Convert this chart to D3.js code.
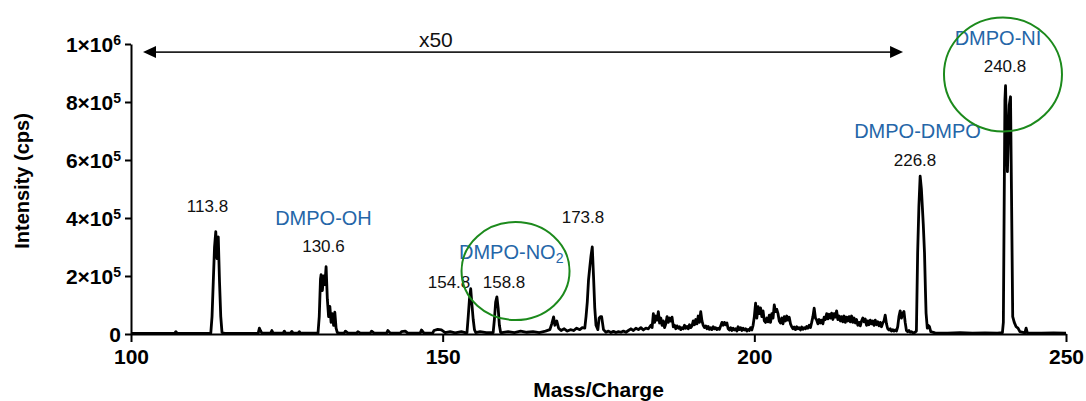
<!DOCTYPE html>
<html><head><meta charset="utf-8">
<script src="https://cdn.jsdelivr.net/npm/d3@7"></script>
<style>
body{margin:0;background:#fff}
svg{display:block}
text{font-family:"Liberation Sans",Arial,Helvetica,sans-serif}
</style>
</head><body>
<svg id="chart" width="1086" height="401"></svg>
<script>
// ---- DATA ----
// spectrum: [mass/charge, intensity in thousands of cps]
const spectrum = [
[100,2],[107,2],[107.2,8],[107.4,2],[112.8,3],[113.0,60],[113.2,180],[113.4,300],[113.6,353],[113.8,260],[114.0,335],[114.2,180],[114.4,60],[114.6,5],[115,2],
[120.4,2],[120.6,20],[120.8,10],[121.0,3],[122.4,3],[122.6,12],[122.8,3],[124.4,3],[124.6,10],[124.8,3],[125.6,3],[125.8,9],[126.0,3],[126.8,3],[127.0,8],[127.2,3],
[130.0,3],[130.2,60],[130.4,190],[130.5,205],[130.7,150],[130.9,200],[131.1,170],[131.3,232],[131.5,120],[131.7,60],[131.9,95],[132.1,40],[132.3,70],[132.5,30],[132.7,75],[132.9,20],[133.1,5],[133.4,3],
[134.2,3],[134.4,10],[134.8,3],[136.2,3],[136.4,8],[136.8,3],[138.4,3],[138.6,10],[139,3],[141.0,3],[141.2,12],[141.6,3],[143.2,3],[143.4,8],[144,10],[144.4,3],[146.4,3],[146.6,14],[147,3],[148.4,3],[148.6,12],[149.2,16],[149.8,14],[150.4,5],[151.2,8],[152,4],[153,8],[153.6,5],
[153.9,5],[154.1,60],[154.3,120],[154.5,156],[154.7,100],[154.9,50],[155.1,15],[155.3,5],[156,8],[157,5],[157.8,5],
[158.1,5],[158.3,50],[158.5,110],[158.7,128],[158.9,90],[159.1,30],[159.3,5],
[159.5,5],[160.5,8],[161.5,5],[162.5,10],[163.5,6],[164.5,8],[165.5,5],[166.5,10],[167.2,15],[167.5,35],[167.8,59],[168.0,30],[168.3,45],[168.6,20],[169.0,12],[169.5,18],[170.0,10],[170.5,15],[171.0,12],[171.5,20],[172.0,15],[172.4,22],
[172.8,20],[173.0,60],[173.2,110],[173.4,187],[173.6,230],[173.8,270],[174.0,300],[174.2,200],[174.4,90],[174.6,30],[174.9,15],[175.1,55],[175.3,60],
[175.5,60],[175.8,15],[176.2,6],[176.6,10],[177.0,5],[177.4,9],[177.8,5],[178.2,8],[178.6,6],[179.0,10],[179.4,6],[179.8,12],[180.2,18],[180.6,12],[181.0,20],[181.4,15],[181.8,22],[182.2,14],[182.6,20],[183.0,18],
[183.4,30],[183.6,22],[183.8,70],[184.0,40],[184.2,62],[184.4,48],[184.6,77],[184.8,38],[185.0,55],[185.2,30],[185.4,45],[185.6,22],[185.8,35],[186.0,60],[186.2,40],[186.4,55],[186.6,45],[186.8,58],[187.0,25],[187.2,30],
[187.4,18],[187.6,28],[187.8,20],[188.0,25],[188.2,15],[188.4,22],[188.6,18],[188.8,30],[189.0,20],[189.2,26],[189.4,18],[189.6,32],[189.8,22],[190.0,28],[190.2,45],[190.4,32],[190.6,50],[190.8,35],[191.0,62],[191.2,40],
[191.4,77],[191.6,45],[191.8,30],[192.0,22],[192.2,28],[192.4,18],[192.6,26],[192.8,16],[193.0,22],[193.2,15],[193.4,25],[193.6,18],[193.8,22],[194.0,15],[194.2,20],[194.4,16],[194.6,28],[194.8,40],[195.0,30],[195.2,40],
[195.4,32],[195.6,38],[195.8,18],[196.0,14],[196.2,22],[196.4,12],[196.6,20],[196.8,14],[197.0,18],[197.2,10],[197.4,25],[197.6,15],[197.8,22],[198.0,12],[198.2,20],[198.4,14],[198.6,18],[198.8,10],[199.0,16],[199.2,12],
[199.4,22],[199.6,14],[199.8,30],[200.0,60],[200.2,106],[200.4,55],[200.6,94],[200.8,70],[201.0,90],[201.2,60],[201.4,80],[201.6,45],[201.8,40],[202.0,55],[202.2,42],[202.4,65],[202.6,40],[202.8,70],[203.0,55],[203.2,100],
[203.4,77],[203.6,85],[203.8,70],[204.0,45],[204.2,38],[204.4,55],[204.6,35],[204.8,60],[205.0,45],[205.2,62],[205.4,48],[205.6,58],[205.8,35],[206.0,25],[206.2,18],[206.4,24],[206.6,15],[206.8,25],[207.0,18],[207.2,22],
[207.4,14],[207.6,24],[207.8,16],[208.0,22],[208.2,18],[208.4,26],[208.6,20],[208.8,30],[209.0,22],[209.2,40],[209.4,60],[209.6,89],[209.8,55],[210.0,48],[210.2,35],[210.4,50],[210.6,38],[210.8,48],[211.0,35],[211.2,58],
[211.4,50],[211.6,70],[211.8,52],[212.0,68],[212.2,55],[212.4,72],[212.6,50],[212.8,70],[213.0,58],[213.2,80],[213.4,50],[213.6,62],[213.8,45],[214.0,60],[214.2,42],[214.4,62],[214.6,40],[214.8,58],[215.0,45],[215.2,60],
[215.4,42],[215.6,62],[215.8,40],[216.0,55],[216.2,38],[216.4,50],[216.6,30],[216.8,40],[217.0,28],[217.2,45],[217.4,55],[217.6,42],[217.8,52],[218.0,30],[218.2,45],[218.4,32],[218.6,48],[218.8,35],[219.0,45],[219.2,30],
[219.4,48],[219.6,32],[219.8,42],[220.0,28],[220.2,40],[220.4,25],[220.6,38],[220.8,45],[221.0,65],[221.2,35],[221.4,18],[221.6,14],[221.8,18],[222.0,10],[222.2,15],[222.4,10],[222.6,14],[222.8,10],[223.0,25],[223.2,60],
[223.4,80],[223.6,55],[223.8,70],[224.0,78],[224.2,40],[224.4,12],[224.6,8],[224.8,12],[225.0,6],[225.2,8],[225.4,5],[225.7,5],
[226.0,10],[226.2,280],[226.4,440],[226.6,544],[226.8,500],[226.95,440],[227.1,380],[227.3,280],[227.45,150],[227.55,72],[227.75,20],[227.9,30],[228.1,25],[228.3,8],
[229,4],[231,3],[233,5],[235,3],[237,4],[239,3],[239.8,5],
[239.95,40],[240.1,500],[240.2,807],[240.3,856],[240.6,560],[240.9,790],[241.1,818],[241.25,500],[241.45,60],[241.7,40],[242.0,25],[242.3,20],[242.6,8],[243.4,4],[243.6,20],[243.8,4],[246,3],[248,4],[250,3]
];

const xTicks = [100, 150, 200, 250];
const yTicks = [0, 200000, 400000, 600000, 800000, 1000000];
const yTickMantissa = ["0", "2×10", "4×10", "6×10", "8×10", "1×10"];
const yTickExponent = ["", "5", "5", "5", "5", "6"];

const peakLabels = ["113.8", "130.6", "154.8", "158.8", "173.8", "226.8", "240.8"];
const speciesLabels = ["DMPO-OH", "DMPO-NO", "DMPO-DMPO", "DMPO-NI"];
const speciesSubscripts = ["", "2", "", ""];
const xTitle = "Mass/Charge";
const yTitle = "Intensity (cps)";
const magnifyLabel = "x50";

// ---- LAYOUT (annotation anchors in data units: m/z, thousands cps) ----
const peakLabelPos = [[112.27,421],[130.88,283],[151.02,159],[159.84,159],[172.51,383],[225.78,579],[240.21,903]];
const speciesLabelPos = [[130.88,376],[161.0,259],[226.18,676],[239.09,997]];
const circlePos = [[161.69,217,54,49],[239.89,895,59,57]];
const arrowSpan = [101.93, 223.86, 972];
const magnifyPos = [148.9, 990];

const W = 1086, H = 401;
const M = {top: 44, right: 20, bottom: 67, left: 131};
const x = d3.scaleLinear().domain([100, 250]).range([M.left, W - M.right]);
const y = d3.scaleLinear().domain([0, 1000000]).range([H - M.bottom, M.top]);
const yk = v => y(v * 1000);

const svg = d3.select("#chart");

// axes
const gx = svg.append("g").attr("transform", `translate(0,${H - M.bottom})`)
  .call(d3.axisBottom(x).tickValues(xTicks).tickSize(8).tickSizeOuter(0).tickPadding(7).tickFormat(d3.format("d")));
const gy = svg.append("g").attr("transform", `translate(${M.left},0)`)
  .call(d3.axisLeft(y).tickValues(yTicks).tickSize(6).tickSizeOuter(0).tickPadding(4));
[gx, gy].forEach(g => {
  g.selectAll("path.domain").attr("stroke", "#000").attr("stroke-width", 2);
  g.selectAll(".tick line").attr("stroke", "#000").attr("stroke-width", 2);
  g.selectAll(".tick text").attr("fill", "#000").style("font-size", "21px").style("font-weight", "bold")
    .style("font-family", '"Liberation Sans",Arial,sans-serif');
});
gy.selectAll(".tick text").each(function(d, i) {
  const t = d3.select(this).text(null).attr("dy", "0.38em");
  t.append("tspan").text(yTickMantissa[i]);
  if (yTickExponent[i]) t.append("tspan").text(yTickExponent[i]).attr("dy", "-0.5em").style("font-size", "14px");
});

// axis titles
svg.append("text").attr("x", (M.left + W - M.right) / 2).attr("y", 397)
  .attr("text-anchor", "middle").style("font-size", "21px").style("font-weight", "bold").text(xTitle);
svg.append("text").attr("transform", `translate(28.5,${(M.top + H - M.bottom) / 2 - 8}) rotate(-90)`)
  .attr("text-anchor", "middle").style("font-size", "20px").style("font-weight", "bold").text(yTitle);

// spectrum
const line = d3.line().x(d => x(d[0])).y(d => yk(d[1]));
svg.append("path").datum(spectrum).attr("d", line)
  .attr("fill", "none").attr("stroke", "#000").attr("stroke-width", 2.8).attr("stroke-linejoin", "round");

// magnification arrow
const ay = yk(arrowSpan[2]), ax0 = x(arrowSpan[0]), ax1 = x(arrowSpan[1]);
svg.append("line").attr("x1", ax0 + 10).attr("x2", ax1 - 10).attr("y1", ay).attr("y2", ay)
  .attr("stroke", "#222").attr("stroke-width", 1.6);
svg.append("path").attr("d", `M${ax0},${ay} L${ax0 + 13},${ay - 6} L${ax0 + 13},${ay + 6} Z`).attr("fill", "#000");
svg.append("path").attr("d", `M${ax1},${ay} L${ax1 - 13},${ay - 6} L${ax1 - 13},${ay + 6} Z`).attr("fill", "#000");
svg.append("text").attr("x", x(magnifyPos[0])).attr("y", yk(magnifyPos[1]))
  .attr("text-anchor", "middle").style("font-size", "21px").attr("fill", "#111").text(magnifyLabel);

// peak value labels
svg.append("g").selectAll("text").data(peakLabels).join("text")
  .attr("x", (d, i) => x(peakLabelPos[i][0])).attr("y", (d, i) => yk(peakLabelPos[i][1]))
  .attr("text-anchor", "middle").style("font-size", "17px").attr("fill", "#111").text(d => d);

// species labels
svg.append("g").selectAll("text").data(speciesLabels).join("text")
  .attr("x", (d, i) => x(speciesLabelPos[i][0])).attr("y", (d, i) => yk(speciesLabelPos[i][1]))
  .attr("text-anchor", "middle").style("font-size", "20px").attr("fill", "#2566a8")
  .each(function(d, i) {
    const t = d3.select(this);
    t.append("tspan").text(d);
    if (speciesSubscripts[i]) t.append("tspan").text(speciesSubscripts[i]).attr("dy", "0.3em").style("font-size", "14px");
  });

// highlight circles
svg.append("g").selectAll("ellipse").data(circlePos).join("ellipse")
  .attr("cx", d => x(d[0])).attr("cy", d => yk(d[1])).attr("rx", d => d[2]).attr("ry", d => d[3])
  .attr("fill", "none").attr("stroke", "#1c8a1c").attr("stroke-width", 2);
</script>
</body></html>
